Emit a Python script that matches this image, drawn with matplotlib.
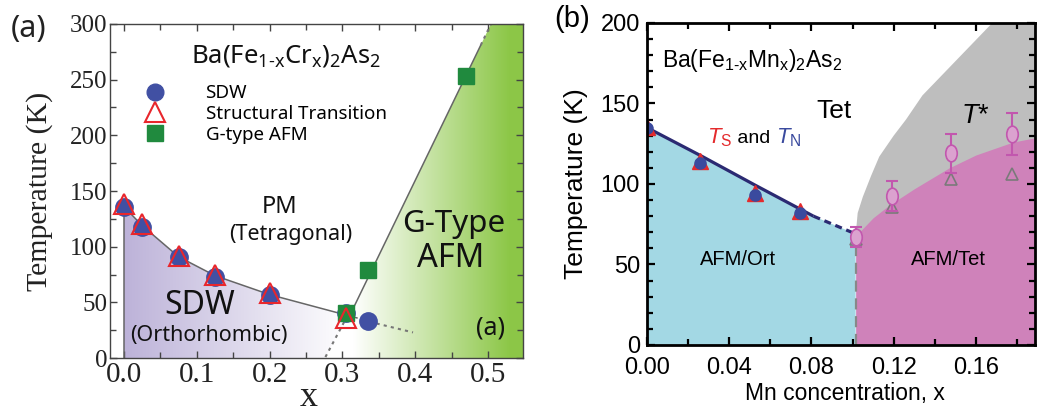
import numpy as np
import matplotlib
matplotlib.use('Agg')
from matplotlib import pyplot as plt, patches as mpatches, path as mpath, transforms as mtransforms
from matplotlib.ticker import MultipleLocator, FormatStrFormatter

# ---- Ba(Fe1-xCrx)2As2 ----
cr_sdw_x = [0.0, 0.025, 0.075, 0.125, 0.2, 0.305, 0.335]
cr_sdw_t = [136, 118, 91, 73, 57, 40, 33]
cr_struct_x = [0.0, 0.025, 0.075, 0.125, 0.2, 0.305]
cr_struct_t = [138, 120, 92, 75, 58, 36]
cr_gafm_x = [0.305, 0.335, 0.47]
cr_gafm_t = [40, 79, 253]

# phase boundaries
cr_sdw_line_x = [0.0, 0.025, 0.075, 0.125, 0.2, 0.32]
cr_sdw_line_t = [136, 119, 91, 74, 57, 36]
cr_sdw_end_x = [0.307, 0.276]          # dotted end of the SDW dome
cr_sdw_end_t = [38, 0]
cr_sdw_tail_x = [0.347, 0.397]
cr_sdw_tail_t = [31, 23]
cr_g_line_x = [0.31, 0.49]
cr_g_line_t = [38, 281]
cr_g_ext_x = [0.49, 0.504]
cr_g_ext_t = [281, 300]

# ---- Ba(Fe1-xMnx)2As2 ----
mn_x = [0.0, 0.026, 0.0525, 0.0745]
mn_ts = [135.5, 114, 94.5, 83]
mn_tn = [134.5, 113, 93, 82]
mn_line_x = [0.0, 0.027, 0.053, 0.081]
mn_line_t = [135, 117, 99, 80]
mn_dash_x = [0.081, 0.1015]
mn_dash_t = [80, 69]
mn_tstar_x = [0.1015, 0.119, 0.148, 0.1776]
mn_tstar_t = [67, 92.5, 119, 131]
mn_tstar_err = [6, 9.5, 12, 13]
mn_tri_x = [0.1015, 0.119, 0.148, 0.1776]
mn_tri_t = [66, 86, 103, 106]
mn_xc = 0.1015
mn_tet_x = [0.1015, 0.104, 0.11, 0.118, 0.13, 0.147, 0.16, 0.178, 0.19]
mn_tet_t = [68, 71, 79, 87, 97, 110, 118, 126, 129]
mn_gray_x = [0.1015, 0.1025, 0.105, 0.109, 0.113, 0.12, 0.126, 0.134, 0.168]
mn_gray_t = [68, 82, 92, 105, 117, 130, 140, 155, 200]

plt.rcParams['mathtext.fontset'] = 'custom'
plt.rcParams['mathtext.rm'] = 'Liberation Sans'
plt.rcParams['mathtext.it'] = 'Liberation Sans:italic'
plt.rcParams['mathtext.bf'] = 'Liberation Sans:bold'

SANS_A = ['Noto Sans', 'Open Sans', 'DejaVu Sans']
SANS_B = ['Liberation Sans']
SERIF = ['Liberation Serif']
WA = 'medium'

fig = plt.figure(figsize=(10.46, 4.15), dpi=100)
ax1 = fig.add_axes([0.1052, 0.1373, 0.3948, 0.8049])
ax2 = fig.add_axes([0.6186, 0.1687, 0.3709, 0.7759])


def gradient_fill(ax, verts, x0, x1, y0, y1, c_left, c_right, g0, g1):
    # horizontal colour ramp from c_left (at g0) to c_right (at g1), clipped to a polygon
    xs = np.linspace(x0, x1, 400)
    f = np.clip((xs - g0) / (g1 - g0), 0, 1)[None, :, None]
    img = np.array(c_left)[None, None, :] * (1 - f) + np.array(c_right)[None, None, :] * f
    img = np.repeat(img, 2, axis=0)
    poly = mpatches.Polygon(verts, closed=True, facecolor='none', edgecolor='none',
                            transform=ax.transData)
    ax.add_patch(poly)
    im = ax.imshow(img, extent=(x0, x1, y0, y1), aspect='auto', origin='lower',
                   interpolation='bilinear', zorder=0)
    im.set_clip_path(poly)


# ---------------- panel (a) ----------------
purple_verts = [(0, 0)] + list(zip(cr_sdw_line_x[:-1], cr_sdw_line_t[:-1])) + \
    list(zip(cr_sdw_end_x, cr_sdw_end_t))
gradient_fill(ax1, purple_verts, 0, 0.31, 0, 140,
              (0.74, 0.70, 0.85), (1, 1, 1), 0.0, 0.31)

green_verts = [(cr_g_line_x[0], 0), (cr_g_line_x[0], cr_g_line_t[0]),
               (cr_g_ext_x[1], cr_g_ext_t[1]), (0.56, 300), (0.56, 0)]
gradient_fill(ax1, green_verts, 0.3, 0.56, 0, 300,
              (1, 1, 1), (0.55, 0.78, 0.28), 0.315, 0.53)

lc = '#666666'
ax1.plot(cr_sdw_line_x, cr_sdw_line_t, color=lc, lw=1.1, zorder=2)
ax1.plot([0, 0], [0, cr_sdw_line_t[0]], color=lc, lw=1.1, zorder=2)
ax1.plot(cr_sdw_end_x, cr_sdw_end_t, color='#777777', lw=1.5, ls=(0, (1.5, 2)), zorder=2)
ax1.plot(cr_sdw_tail_x, cr_sdw_tail_t, color='#777777', lw=1.5, ls=(0, (1.5, 2)), zorder=2)
ax1.plot(cr_g_line_x, cr_g_line_t, color=lc, lw=1.1, zorder=2)
ax1.plot(cr_g_ext_x, cr_g_ext_t, color='#777777', lw=1.5, ls=(0, (1.5, 2)), zorder=2)

h_sdw, = ax1.plot(cr_sdw_x, cr_sdw_t, 'o', ms=12.5, color='#4150a3', mec='#4150a3',
                  label='SDW', zorder=3)
h_g, = ax1.plot(cr_gafm_x, cr_gafm_t, 's', ms=12, color='#208a3e', mec='#208a3e',
                label='G-type AFM', zorder=4)
h_st, = ax1.plot(cr_struct_x, cr_struct_t, '^', ms=15, mfc='none', mec='#e8262c', mew=1.5,
                 label='Structural Transition', zorder=5)

ax1.set_xlim(-0.019, 0.548)
ax1.set_ylim(0, 300)
ax1.xaxis.set_major_locator(MultipleLocator(0.1))
ax1.xaxis.set_minor_locator(MultipleLocator(0.05))
ax1.yaxis.set_major_locator(MultipleLocator(50))
ax1.yaxis.set_minor_locator(MultipleLocator(25))
ax1.tick_params(which='both', direction='in', top=True, right=True, color='#444444', width=1)
ax1.tick_params(which='major', length=5)
ax1.tick_params(which='minor', length=4.5)
ax1.tick_params(axis='x', labelsize=21, pad=3)
ax1.tick_params(axis='y', labelsize=18, pad=2)
for lab in ax1.get_xticklabels() + ax1.get_yticklabels():
    lab.set_family(SERIF)
    lab.set_color('#222222')
for sp in ax1.spines.values():
    sp.set_color('#444444')
    sp.set_linewidth(1)
    sp.set_zorder(6)

ax1.set_ylabel('Temperature (K)', family=SERIF, fontsize=21.5, color='#222222')
ax1.yaxis.set_label_coords(-0.138, 0.5)
ax1.set_xlabel('x', family=SERIF, fontsize=26, color='#222222')
ax1.xaxis.set_label_coords(0.482, -0.068)

leg = ax1.legend(handles=[h_sdw, h_st, h_g], loc='upper left',
                 bbox_to_anchor=(0.086, 0.82), frameon=False,
                 prop={'family': SANS_A, 'size': 13.5, 'weight': WA},
                 handlelength=1.0, handletextpad=2.2, borderpad=0, borderaxespad=0,
                 labelspacing=0.15, numpoints=1)
for h in leg.legend_handles:
    h.set_markersize(12)
leg.legend_handles[1].set_markerfacecolor('white')
leg.legend_handles[1].set_markersize(14)
leg.legend_handles[2].set_markersize(11)

ax1.text(0.2225, 265,
         r'Ba(Fe$_{\mathregular{1\text{-}x}}$Cr$_{\mathregular{x}}$)$_{\mathregular{2}}$As$_{\mathregular{2}}$',
         family=SANS_A, weight=WA, fontsize=18.5, ha='center', va='baseline', color='#111111')
ax1.text(0.214, 136, 'PM', family=SANS_A, weight=WA, fontsize=17, ha='center', va='center', color='#111111')
ax1.text(0.229, 110.5, '(Tetragonal)', family=SANS_A, weight=WA, fontsize=15.5, ha='center', va='center', color='#111111')
ax1.text(0.104, 47.6, 'SDW', family=SANS_A, weight=WA, fontsize=23, ha='center', va='center', color='#111111')
ax1.text(0.117, 19.8, '(Orthorhombic)', family=SANS_A, weight=WA, fontsize=15.5, ha='center', va='center', color='#111111')
ax1.text(0.453, 120.4, 'G-Type', family=SANS_A, weight=WA, fontsize=22.5, ha='center', va='center', color='#111111')
ax1.text(0.449, 89.8, 'AFM', family=SANS_A, weight=WA, fontsize=23.5, ha='center', va='center', color='#111111')
ax1.text(0.503, 27, '(a)', family=SANS_A, weight=WA, fontsize=18, ha='center', va='center', color='#111111')

fig.text(0.0277, 0.930, '(a)', family=SANS_A, fontsize=22, ha='center', va='center', color='#222222')

# ---------------- panel (b) ----------------
cyan = '#a3d8e4'
magenta = '#cf82ba'
gray = '#bebebe'

ax2.fill(mn_gray_x + [0.2, 0.2], mn_gray_t + [200, 0], color=gray, lw=0, zorder=0)
ax2.fill_between(mn_tet_x, 0, mn_tet_t, color=magenta, lw=0, zorder=0.5)
cyan_x = [0.0] + mn_line_x + mn_dash_x[1:] + [mn_xc]
cyan_t = [0.0] + mn_line_t + mn_dash_t[1:] + [0.0]
ax2.fill(cyan_x, cyan_t, color=cyan, lw=0, zorder=0.6)

ax2.plot([mn_xc, mn_xc], [0, 62], color='#888888', lw=1.6, ls=(0, (5, 3)), zorder=1)
ax2.plot(mn_line_x, mn_line_t, color='#2b2a72', lw=2.3, zorder=2, solid_capstyle='butt')
ax2.plot(mn_dash_x, mn_dash_t, color='#2b2a72', lw=2.3, ls=(0, (2.2, 1.5)), zorder=2)

ax2.plot(mn_x, mn_ts, '^', ms=11, color='#e42a2c', mec='#e42a2c', zorder=3)
ax2.plot(mn_x, mn_tn, 'o', ms=8, color='#3a4a9e', mec='#3a4a9e', zorder=4)

ax2.plot(mn_tri_x, mn_tri_t, '^', ms=8, mfc='none', mec='#7a7a7a', mew=1.2, zorder=3)
ellipse = mpath.Path.unit_circle().transformed(mtransforms.Affine2D().scale(1.0, 1.45))
ax2.errorbar(mn_tstar_x, mn_tstar_t, yerr=mn_tstar_err, fmt='none', ecolor='#c257ae',
             elinewidth=1.5, capsize=4, capthick=1.5, zorder=4)
ax2.plot(mn_tstar_x, mn_tstar_t, ls='none', marker=ellipse, ms=12, mfc='#dba2cf',
         mec='#c257ae', mew=1.2, zorder=5)

ax2.set_xlim(0, 0.1888)
ax2.set_ylim(0, 200)
ax2.xaxis.set_major_locator(MultipleLocator(0.04))
ax2.xaxis.set_minor_locator(MultipleLocator(0.02))
ax2.yaxis.set_major_locator(MultipleLocator(50))
ax2.yaxis.set_minor_locator(MultipleLocator(10))
ax2.xaxis.set_major_formatter(FormatStrFormatter('%.2f'))
ax2.tick_params(which='both', direction='in', top=True, right=True, color='black', width=1.6)
ax2.tick_params(which='major', length=6)
ax2.tick_params(which='minor', length=4)
ax2.tick_params(axis='x', labelsize=17, pad=8.5)
ax2.tick_params(axis='y', labelsize=17, pad=5)
for lab in ax2.get_xticklabels() + ax2.get_yticklabels():
    lab.set_family(SANS_B)
for sp in ax2.spines.values():
    sp.set_linewidth(2)
    sp.set_zorder(6)

ax2.set_ylabel('Temperature (K)', family=SANS_B, fontsize=19)
ax2.yaxis.set_label_coords(-0.152, 0.5)
ax2.set_xlabel('Mn concentration, x', family=SANS_B, fontsize=16.5)
ax2.xaxis.set_label_coords(0.51, -0.115)

ax2.text(0.0073, 172.7,
         r'Ba(Fe$_{\mathregular{1\text{-}x}}$Mn$_{\mathregular{x}}$)$_{\mathregular{2}}$As$_{\mathregular{2}}$',
         family=SANS_B, fontsize=16.5, ha='left', va='baseline')
ax2.text(0.091, 145.3, 'Tet', family=SANS_B, fontsize=19, ha='center', va='center')
t1 = ax2.text(0.0292, 125.5, r'$T_{\mathregular{S}}$', family=SANS_B, fontsize=16,
              ha='left', va='baseline', color='#e42a2c')
t2 = ax2.annotate(' and ', xy=(1, 125.5), xycoords=(t1, 'data'), family=SANS_B,
                  fontsize=14, ha='left', va='baseline')
ax2.annotate(r'$T_{\mathregular{N}}$', xy=(1, 125.5), xycoords=(t2, 'data'), family=SANS_B,
             fontsize=16, ha='left', va='baseline', color='#3a4a9e')
ax2.text(0.153, 142, r'$T$*', family=SANS_B, fontsize=19.5, ha='left', va='center')
ax2.text(0.0443, 52.8, 'AFM/Ort', family=SANS_B, fontsize=14.5, ha='center', va='center')
ax2.text(0.1465, 52.8, 'AFM/Tet', family=SANS_B, fontsize=14.5, ha='center', va='center')

fig.text(0.547, 0.954, '(b)', family=SANS_B, fontsize=21, ha='center', va='center')

fig.savefig('out.png', dpi=100)
